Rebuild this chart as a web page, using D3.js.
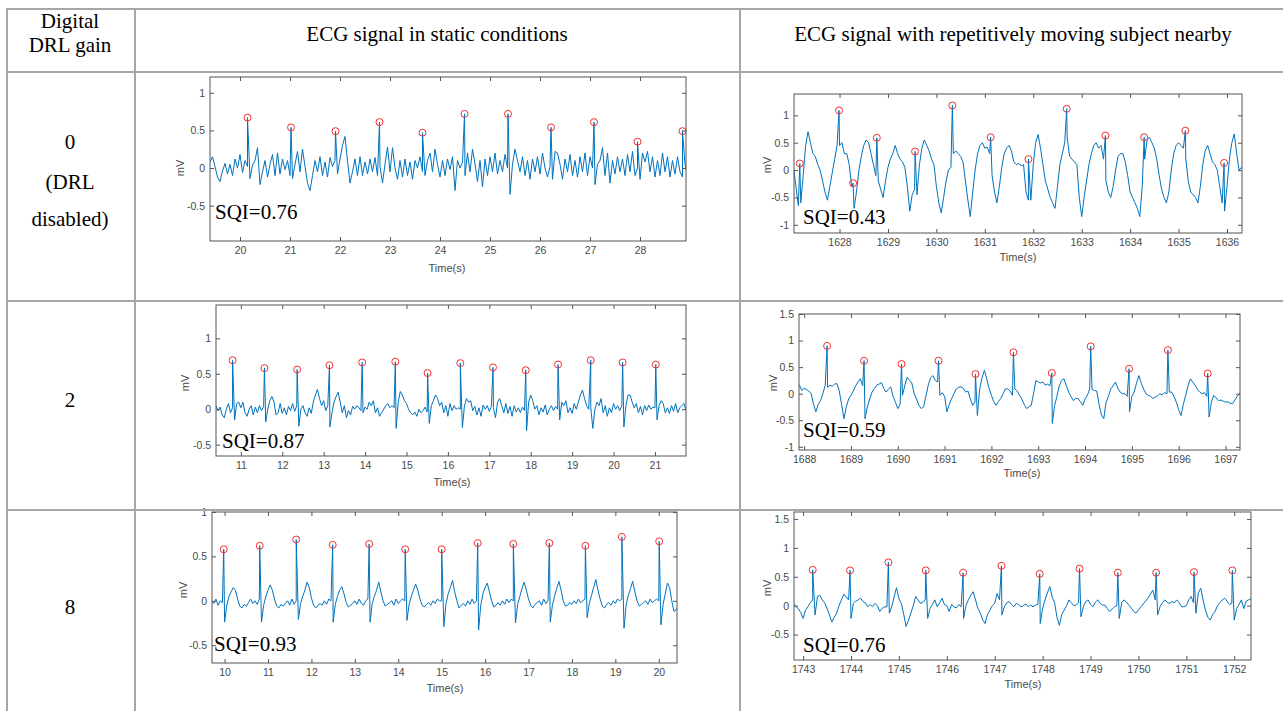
<!DOCTYPE html>
<html>
<head>
<meta charset="utf-8">
<script src="https://cdn.jsdelivr.net/npm/d3@7/dist/d3.min.js"></script>
<style>
  body { margin: 0; background: #fff; }
  .tk text { font-family: "Liberation Sans", Arial, sans-serif; font-size: 10.5px; fill: #4a4a4a; }
  .tk line { stroke: #555; }
  .tk path { display: none; }
</style>
</head>
<body>
<div id="chart"></div>
<script>
// sample step of every trace (s)
var dt = 0.05;

// table text
var gainLabels = [["0", "(DRL", "disabled)"], ["2"], ["8"]];
var colHeaders = ["ECG signal in static conditions", "ECG signal with repetitively moving subject nearby"];
var sqiLabels = ["SQI=0.76", "SQI=0.43", "SQI=0.87", "SQI=0.59", "SQI=0.93", "SQI=0.76"];

// gain 0, static
var startA = 19.40;
var ecgA = [
  0.08, 0.15, 0.02, -0.12, -0.18, -0.04, 0.06, -0.08, 0.05, -0.10,
  0.12, 0.00, 0.18, -0.06, 0.10, 0.02, -0.14, 0.04, 0.10, 0.27,
  -0.22, -0.05, 0.10, -0.12, 0.05, 0.18, -0.10, 0.20, -0.08, 0.12,
  -0.02, 0.10, -0.10, -0.14, 0.05, 0.22, -0.05, 0.25, 0.02, -0.20,
  -0.30, -0.10, 0.10, -0.05, 0.15, -0.10, 0.08, -0.12, 0.14, 0.02,
  0.10, -0.08, 0.12, 0.30, 0.42, 0.10, -0.20, -0.05, 0.12, -0.10,
  0.15, -0.10, 0.08, -0.08, 0.12, -0.05, 0.14, -0.10, 0.02, -0.20,
  0.05, 0.28, -0.05, 0.27, 0.00, -0.15, 0.10, -0.12, 0.12, -0.10,
  0.08, -0.15, 0.10, 0.00, 0.15, -0.05, -0.10, 0.10, 0.20, -0.05,
  0.25, 0.05, -0.12, 0.10, -0.10, 0.12, -0.02, 0.15, -0.30, 0.10,
  0.00, 0.08, -0.10, 0.20, -0.05, 0.25, 0.05, -0.18, 0.10, -0.25,
  0.12, -0.10, 0.15, -0.05, 0.20, -0.08, 0.10, -0.05, 0.18, 0.00,
  -0.35, 0.05, 0.25, 0.10, -0.05, 0.15, -0.10, 0.10, -0.15, 0.12,
  -0.05, 0.15, -0.08, 0.20, 0.00, -0.12, 0.02, -0.15, 0.22, 0.20,
  0.05, -0.15, 0.12, -0.05, 0.18, -0.10, 0.10, -0.12, 0.15, -0.05,
  0.20, -0.10, 0.15, 0.00, -0.22, 0.05, 0.10, 0.27, -0.10, 0.20,
  -0.20, 0.10, -0.08, 0.15, -0.05, 0.12, -0.10, 0.18, -0.05, 0.22,
  -0.10, 0.00, -0.15, 0.20, 0.08, 0.22, -0.05, 0.15, -0.12, 0.10,
  -0.10, 0.20, -0.05, 0.15, -0.12, 0.10, -0.08, 0.15, -0.05, -0.12,
  0.05, -0.10
];
var peakTA = [20.15, 21.02, 21.91, 22.79, 23.65, 24.49, 25.36, 26.22, 27.08, 27.95, 28.85];
var peakVA = [0.67, 0.54, 0.49, 0.61, 0.47, 0.72, 0.72, 0.54, 0.61, 0.35, 0.49];

// gain 0, moving subject
var startB = 1627.05;
var ecgB = [
  0.04, -0.30, -0.65, -0.60, -0.10, 0.45, 0.70, 0.50, 0.30, 0.25,
  0.10, 0.00, -0.20, -0.40, -0.55, -0.30, -0.05, 0.20, 0.45, 0.45,
  0.50, 0.30, 0.30, 0.10, -0.30, -0.70, -0.40, 0.00, 0.25, 0.45,
  0.55, 0.50, 0.30, 0.10, -0.10, -0.20, -0.35, -0.50, -0.20, 0.05,
  0.20, 0.30, 0.45, 0.30, 0.20, 0.15, 0.05, -0.30, -0.75, -0.45,
  -0.35, -0.45, 0.10, 0.40, 0.55, 0.45, 0.35, 0.20, 0.10, -0.30,
  -0.60, -0.78, -0.50, -0.20, 0.00, 0.05, 0.30, 0.35, 0.30, 0.25,
  0.15, -0.20, -0.55, -0.85, -0.40, 0.00, 0.30, 0.45, 0.50, 0.40,
  0.42, 0.30, -0.10, -0.40, -0.60, -0.30, 0.05, 0.30, 0.40, 0.45,
  0.35, 0.15, 0.10, 0.12, 0.08, 0.10, -0.40, -0.55, -0.55, 0.10,
  0.50, 0.65, 0.40, 0.10, -0.20, -0.35, -0.50, -0.60, -0.70, -0.30,
  0.10, 0.30, 0.50, 0.60, 0.25, 0.20, 0.15, 0.10, -0.50, -0.85,
  -0.50, -0.20, 0.10, 0.30, 0.45, 0.50, 0.40, 0.45, 0.20, -0.20,
  -0.40, -0.50, -0.30, 0.00, 0.25, 0.30, 0.30, 0.15, -0.10, -0.40,
  -0.50, -0.60, -0.70, -0.85, -0.30, 0.20, 0.55, 0.60, 0.50, 0.40,
  0.20, -0.10, -0.35, -0.50, -0.60, -0.40, 0.00, 0.30, 0.45, 0.50,
  0.45, 0.40, 0.20, -0.20, -0.40, -0.45, -0.50, -0.60, -0.30, 0.10,
  0.35, 0.45, 0.30, 0.15, 0.10, 0.00, -0.30, -0.60, -0.75, -0.30,
  0.20, 0.50, 0.66, 0.30, 0.00, 0.05, 0.10
];
var peakTB = [1627.18, 1627.99, 1628.28, 1628.77, 1629.56, 1630.33, 1631.12, 1631.90, 1632.69, 1633.49, 1634.29, 1635.14, 1635.94];
var peakVB = [0.12, 1.09, -0.24, 0.59, 0.34, 1.18, 0.60, 0.20, 1.12, 0.63, 0.60, 0.72, 0.13];

// gain 2, static
var startC = 10.40;
var ecgC = [
  0.05, -0.02, 0.03, -0.08, -0.12, 0.00, 0.08, -0.05, 0.02, -0.15,
  0.08, 0.10, 0.02, 0.10, -0.05, -0.10, 0.00, 0.05, -0.08, 0.03,
  -0.05, 0.05, -0.02, 0.04, -0.18, 0.00, 0.12, 0.18, 0.10, -0.08,
  -0.05, 0.08, -0.06, 0.02, -0.08, 0.04, -0.02, 0.08, -0.03, 0.05,
  -0.24, 0.00, 0.05, -0.05, -0.10, 0.02, -0.06, 0.10, 0.20, 0.28,
  0.15, 0.05, 0.12, -0.02, 0.05, -0.25, -0.05, 0.10, 0.18, 0.24,
  0.10, -0.05, 0.05, -0.12, -0.02, -0.08, 0.04, 0.00, 0.05, 0.02,
  -0.02, -0.05, 0.03, 0.00, 0.10, 0.05, 0.12, -0.05, 0.02, -0.10,
  -0.05, 0.00, 0.05, 0.08, 0.02, 0.05, 0.02, -0.27, 0.10, 0.25,
  0.20, 0.12, 0.08, 0.00, -0.05, -0.08, -0.04, -0.10, 0.00, -0.05,
  -0.02, 0.03, -0.04, -0.20, 0.05, 0.12, 0.20, 0.15, 0.05, 0.10,
  -0.05, 0.05, -0.10, 0.08, -0.02, 0.05, 0.00, 0.02, 0.00, -0.26,
  0.05, 0.15, 0.10, 0.12, -0.02, 0.04, -0.08, 0.02, -0.10, 0.06,
  0.00, 0.05, -0.03, 0.04, 0.02, -0.12, 0.10, 0.15, 0.05, -0.05,
  0.08, -0.06, 0.04, -0.10, 0.05, -0.04, 0.02, -0.05, 0.03, -0.02,
  -0.30, 0.10, 0.20, 0.12, 0.00, 0.05, -0.08, 0.02, -0.04, 0.06,
  -0.08, 0.00, 0.05, -0.02, 0.04, 0.00, -0.15, 0.10, 0.05, 0.12,
  -0.05, 0.02, -0.06, 0.08, 0.00, 0.10, 0.20, 0.27, 0.15, 0.05,
  0.00, 0.02, -0.27, 0.00, 0.10, 0.05, 0.15, -0.05, 0.05, -0.10,
  0.02, -0.05, 0.08, 0.00, 0.05, -0.02, 0.05, -0.25, 0.05, 0.20,
  0.20, 0.10, 0.02, 0.08, -0.05, 0.04, -0.08, 0.05, -0.02, 0.06,
  0.00, 0.03, 0.02, -0.15, 0.05, 0.12, 0.08, -0.05, 0.02, -0.06,
  0.05, -0.03, 0.08, -0.05, 0.02, 0.05, 0.08, -0.02
];
var peakTC = [10.80, 11.57, 12.36, 13.14, 13.93, 14.73, 15.51, 16.30, 17.09, 17.88, 18.66, 19.45, 20.22, 21.02];
var peakVC = [0.69, 0.58, 0.56, 0.62, 0.66, 0.67, 0.51, 0.65, 0.59, 0.55, 0.63, 0.69, 0.66, 0.63];

// gain 2, moving subject
var startD = 1687.85;
var ecgD = [
  0.12, 0.16, 0.06, 0.10, 0.08, 0.05, 0.00, -0.20, -0.34, -0.20,
  -0.13, 0.00, 0.16, 0.12, 0.16, 0.14, 0.18, 0.19, 0.05, -0.20,
  -0.47, -0.25, -0.10, -0.03, 0.05, 0.15, 0.22, 0.28, 0.15, -0.47,
  -0.25, -0.10, 0.03, 0.10, 0.16, 0.18, 0.21, 0.10, 0.03, 0.08,
  0.13, -0.05, -0.16, -0.28, -0.20, -0.03, 0.15, 0.31, 0.25, 0.20,
  0.00, -0.10, -0.22, -0.28, -0.25, -0.05, 0.16, 0.30, 0.34, 0.25,
  0.22, -0.03, 0.02, -0.05, -0.34, -0.20, -0.09, 0.00, 0.09, 0.12,
  0.13, 0.10, 0.03, 0.05, -0.10, -0.22, -0.15, -0.41, 0.09, 0.30,
  0.44, 0.28, 0.10, -0.03, -0.15, -0.22, -0.15, -0.09, 0.00, 0.09,
  0.09, 0.05, -0.03, 0.09, 0.05, -0.03, -0.10, -0.20, -0.28, -0.25,
  -0.22, 0.00, 0.25, 0.22, 0.20, 0.22, 0.16, 0.18, 0.15, -0.56,
  -0.22, -0.05, 0.15, 0.25, 0.28, 0.15, 0.03, -0.05, -0.13, -0.09,
  -0.09, -0.15, -0.22, -0.10, -0.03, 0.09, 0.08, 0.06, 0.05, -0.20,
  -0.40, -0.47, -0.16, -0.05, 0.09, 0.15, 0.22, 0.10, 0.03, 0.00,
  0.00, -0.05, -0.34, -0.05, 0.03, 0.20, 0.34, 0.20, 0.09, 0.00,
  -0.03, -0.05, -0.09, -0.06, -0.04, 0.00, -0.02, 0.02, 0.00, 0.03,
  0.03, -0.05, -0.16, -0.30, -0.41, -0.20, -0.03, 0.15, 0.28, 0.22,
  0.16, 0.08, 0.03, 0.00, 0.02, -0.05, -0.44, -0.15, -0.03, -0.08,
  -0.13, -0.12, -0.14, -0.16, -0.15, -0.18, -0.19, -0.12, -0.05, 0.00,
  0.06
];
var peakTD = [1688.49, 1689.28, 1690.08, 1690.87, 1691.66, 1692.47, 1693.29, 1694.12, 1694.94, 1695.77, 1696.62];
var peakVD = [0.90, 0.62, 0.56, 0.62, 0.37, 0.78, 0.39, 0.89, 0.47, 0.82, 0.38];

// gain 8, static
var startE = 9.70;
var ecgE = [
  0.00, -0.03, 0.02, -0.05, 0.00, -0.02, -0.24, -0.05, 0.05, 0.10,
  0.15, 0.12, 0.02, -0.06, -0.08, -0.04, -0.06, -0.02, 0.02, -0.03,
  0.00, -0.04, 0.02, -0.24, -0.05, 0.05, 0.12, 0.18, 0.12, 0.02,
  -0.06, -0.08, -0.04, -0.06, -0.03, 0.00, -0.05, 0.02, -0.04, 0.00,
  -0.21, -0.03, 0.05, 0.12, 0.21, 0.15, 0.03, -0.05, -0.08, -0.05,
  -0.03, -0.05, 0.00, -0.04, 0.02, 0.00, -0.24, -0.04, 0.05, 0.12,
  0.16, 0.08, -0.02, -0.07, -0.05, -0.03, 0.00, -0.04, 0.02, -0.03,
  -0.05, 0.00, 0.02, -0.24, -0.03, 0.05, 0.12, 0.21, 0.10, 0.00,
  -0.06, -0.04, -0.02, 0.00, -0.05, 0.02, -0.03, 0.00, 0.02, 0.00,
  -0.22, -0.04, 0.05, 0.12, 0.19, 0.12, 0.02, -0.05, -0.07, -0.04,
  -0.02, -0.05, 0.00, -0.03, 0.02, 0.00, 0.00, -0.29, -0.03, 0.08,
  0.15, 0.23, 0.10, 0.00, -0.08, -0.05, -0.03, -0.06, 0.00, -0.04,
  0.02, -0.03, 0.00, -0.33, -0.05, 0.08, 0.15, 0.20, 0.10, 0.00,
  -0.07, -0.05, -0.02, -0.05, 0.00, -0.04, 0.02, -0.02, 0.02, 0.00,
  -0.25, -0.04, 0.05, 0.14, 0.21, 0.12, 0.02, -0.05, -0.08, -0.04,
  -0.02, 0.00, -0.05, 0.02, -0.03, 0.00, -0.24, -0.05, 0.05, 0.14,
  0.22, 0.12, 0.00, -0.06, -0.05, -0.02, -0.04, 0.00, -0.03, 0.02,
  -0.02, 0.00, 0.02, -0.19, -0.03, 0.06, 0.15, 0.24, 0.12, 0.02,
  -0.06, -0.08, -0.04, -0.02, -0.05, 0.00, -0.03, 0.02, 0.00, 0.02,
  -0.31, -0.04, 0.06, 0.14, 0.22, 0.10, 0.00, -0.06, -0.04, -0.02,
  0.00, -0.04, 0.02, -0.02, 0.00, 0.02, 0.00, -0.27, -0.04, 0.08,
  0.20, 0.15, 0.00, -0.12, -0.10, -0.05
];
var peakTE = [9.98, 10.81, 11.65, 12.49, 13.33, 14.16, 15.00, 15.83, 16.65, 17.48, 18.31, 19.15, 20.01];
var peakVE = [0.58, 0.62, 0.69, 0.63, 0.64, 0.58, 0.58, 0.65, 0.64, 0.65, 0.62, 0.72, 0.67];

// gain 8, moving subject
var startF = 1742.80;
var ecgF = [
  0.04, -0.02, -0.05, -0.12, -0.22, -0.08, -0.02, 0.05, 0.10, -0.16,
  0.16, 0.18, 0.10, 0.05, -0.05, -0.16, -0.28, -0.20, -0.13, 0.00,
  0.10, 0.20, 0.15, 0.10, -0.22, 0.04, 0.08, 0.10, 0.13, 0.07,
  0.05, -0.02, 0.02, -0.02, 0.04, 0.00, -0.10, -0.05, -0.02, -0.02,
  -0.13, -0.02, 0.15, 0.31, 0.12, 0.04, -0.15, -0.36, -0.25, -0.13,
  0.00, 0.16, 0.10, 0.04, 0.06, 0.10, -0.22, -0.05, 0.02, 0.10,
  -0.02, 0.05, 0.13, 0.02, 0.00, -0.10, 0.02, -0.02, -0.04, 0.02,
  -0.02, -0.22, 0.00, 0.10, 0.18, 0.24, 0.10, -0.05, -0.13, -0.25,
  -0.31, -0.15, -0.08, 0.00, 0.04, 0.21, 0.10, -0.16, -0.02, 0.05,
  0.07, 0.02, -0.02, 0.04, 0.02, -0.02, 0.00, 0.03, -0.02, 0.01,
  -0.02, 0.01, 0.02, -0.31, -0.05, 0.10, 0.22, 0.33, 0.15, 0.05,
  -0.20, -0.34, -0.15, -0.08, 0.00, 0.10, 0.05, 0.00, 0.01, 0.05,
  -0.19, -0.02, 0.07, 0.10, 0.02, -0.02, 0.06, 0.10, 0.04, 0.01,
  0.01, -0.05, -0.10, -0.06, -0.02, 0.00, -0.22, 0.05, 0.10, 0.06,
  0.01, -0.04, -0.10, -0.13, -0.08, -0.02, 0.03, 0.08, 0.13, 0.20,
  0.27, 0.10, -0.16, -0.02, 0.05, 0.10, 0.06, 0.04, 0.07, 0.05,
  0.10, 0.05, -0.02, -0.02, 0.00, 0.10, 0.16, 0.05, -0.13, 0.22,
  0.30, 0.10, -0.08, -0.20, -0.25, -0.15, -0.10, 0.00, 0.05, 0.10,
  0.13, 0.08, 0.02, 0.04, -0.25, -0.05, 0.02, 0.10, -0.05, 0.08,
  0.10, 0.12
];
var peakTF = [1743.20, 1743.98, 1744.78, 1745.56, 1746.34, 1747.14, 1747.94, 1748.77, 1749.57, 1750.37, 1751.16, 1751.96];
var peakVF = [0.62, 0.61, 0.75, 0.61, 0.57, 0.69, 0.55, 0.64, 0.57, 0.57, 0.58, 0.61];

// tick values
var xTicksA = [20, 21, 22, 23, 24, 25, 26, 27, 28];
var xTicksB = [1628, 1629, 1630, 1631, 1632, 1633, 1634, 1635, 1636];
var xTicksC = [11, 12, 13, 14, 15, 16, 17, 18, 19, 20, 21];
var xTicksD = [1688, 1689, 1690, 1691, 1692, 1693, 1694, 1695, 1696, 1697];
var xTicksE = [10, 11, 12, 13, 14, 15, 16, 17, 18, 19, 20];
var xTicksF = [1743, 1744, 1745, 1746, 1747, 1748, 1749, 1750, 1751, 1752];
var yTicksA = [-0.5, 0, 0.5, 1];
var yTicksB = [-1, -0.5, 0, 0.5, 1];
var yTicksC = [-0.5, 0, 0.5, 1];
var yTicksD = [-1, -0.5, 0, 0.5, 1, 1.5];
var yTicksE = [-0.5, 0, 0.5, 1];
var yTicksF = [-0.5, 0, 0.5, 1, 1.5];

var svg = d3.select("#chart")
  .append("svg")
    .attr("width", 1283)
    .attr("height", 711);

var serif = '"Liberation Serif", "Times New Roman", serif';
var sans = '"Liberation Sans", Arial, sans-serif';

// panel boxes in page pixels + axis limits
var panels = [
  {id: "A", ecg: ecgA, t0: startA, pt: peakTA, pv: peakVA, xt: xTicksA, yt: yTicksA, sqi: sqiLabels[0],
   left: 210, right: 686, top: 77, bottom: 241, xDom: [19.40, 28.92], yDom: [-0.97, 1.21],
   sqiPos: [215, 219], mvPos: [180, 168], timePos: [447, 272]},
  {id: "B", ecg: ecgB, t0: startB, pt: peakTB, pv: peakVB, xt: xTicksB, yt: yTicksB, sqi: sqiLabels[1],
   left: 794, right: 1242, top: 94, bottom: 233, xDom: [1627.06, 1636.31], yDom: [-1.15, 1.39],
   sqiPos: [803, 224], mvPos: [767, 165], timePos: [1018, 261]},
  {id: "C", ecg: ecgC, t0: startC, pt: peakTC, pv: peakVC, xt: xTicksC, yt: yTicksC, sqi: sqiLabels[2],
   left: 216, right: 686, top: 305, bottom: 456, xDom: [10.40, 21.75], yDom: [-0.66, 1.47],
   sqiPos: [222, 448], mvPos: [185, 383], timePos: [452, 486]},
  {id: "D", ecg: ecgD, t0: startD, pt: peakTD, pv: peakVD, xt: xTicksD, yt: yTicksD, sqi: sqiLabels[3],
   left: 799, right: 1240, top: 314, bottom: 450, xDom: [1687.89, 1697.31], yDom: [-1.06, 1.5],
   sqiPos: [803, 437], mvPos: [773, 383], timePos: [1022, 477]},
  {id: "E", ecg: ecgE, t0: startE, pt: peakTE, pv: peakVE, xt: xTicksE, yt: yTicksE, sqi: sqiLabels[4],
   left: 212, right: 677, top: 512, bottom: 663, xDom: [9.71, 20.42], yDom: [-0.70, 1.0],
   sqiPos: [214, 651], mvPos: [183, 590], timePos: [445, 692]},
  {id: "F", ecg: ecgF, t0: startF, pt: peakTF, pv: peakVF, xt: xTicksF, yt: yTicksF, sqi: sqiLabels[5],
   left: 794, right: 1251, top: 512, bottom: 660, xDom: [1742.81, 1752.35], yDom: [-0.94, 1.62],
   sqiPos: [803, 652], mvPos: [767, 588], timePos: [1023, 688]}
];

function drawPanel(p) {
  var x = d3.scaleLinear().domain(p.xDom).range([p.left, p.right]);
  var y = d3.scaleLinear().domain(p.yDom).range([p.bottom, p.top]);
  var g = svg.append("g");

  g.append("clipPath").attr("id", "clip" + p.id)
    .append("rect")
      .attr("x", p.left).attr("y", p.top)
      .attr("width", p.right - p.left).attr("height", p.bottom - p.top);

  // samples + R peaks merged in time order
  var pts = p.ecg.map(function(v, i) { return [p.t0 + i * dt, v]; });
  p.pt.forEach(function(t, i) { pts.push([t, p.pv[i]]); });
  pts.sort(function(a, b) { return a[0] - b[0]; });

  g.append("path")
    .datum(pts)
    .attr("clip-path", "url(#clip" + p.id + ")")
    .attr("fill", "none")
    .attr("stroke", "#0072BD")
    .attr("stroke-width", 1)
    .attr("stroke-linejoin", "round")
    .attr("d", d3.line()
      .x(function(d) { return x(d[0]); })
      .y(function(d) { return y(d[1]); }));

  g.selectAll("circle.pk")
    .data(p.pt)
    .enter().append("circle")
      .attr("class", "pk")
      .attr("cx", function(d) { return x(d); })
      .attr("cy", function(d, i) { return y(p.pv[i]); })
      .attr("r", 3.5)
      .attr("fill", "none")
      .attr("stroke", "#f03030")
      .attr("stroke-width", 1);

  var fmt = function(d) { return String(d); };
  var yt = p.yt.filter(function(v) { return v <= p.yDom[1]; });
  g.append("g").attr("class", "tk")
    .attr("transform", "translate(0," + p.bottom + ")")
    .call(d3.axisBottom(x).tickValues(p.xt).tickFormat(fmt).tickSizeInner(-4).tickSizeOuter(0).tickPadding(6));
  g.append("g").attr("class", "tk")
    .attr("transform", "translate(0," + p.top + ")")
    .call(d3.axisTop(x).tickValues(p.xt).tickFormat("").tickSizeInner(-4).tickSizeOuter(0));
  g.append("g").attr("class", "tk")
    .attr("transform", "translate(" + p.left + ",0)")
    .call(d3.axisLeft(y).tickValues(yt).tickFormat(fmt).tickSizeInner(-4).tickSizeOuter(0).tickPadding(5));
  g.append("g").attr("class", "tk")
    .attr("transform", "translate(" + p.right + ",0)")
    .call(d3.axisRight(y).tickValues(yt).tickFormat("").tickSizeInner(-4).tickSizeOuter(0));

  g.append("rect")
    .attr("x", p.left).attr("y", p.top)
    .attr("width", p.right - p.left).attr("height", p.bottom - p.top)
    .attr("fill", "none").attr("stroke", "#555").attr("stroke-width", 1);

  g.append("text")
    .attr("x", p.timePos[0]).attr("y", p.timePos[1])
    .attr("text-anchor", "middle")
    .style("font-family", sans).style("font-size", "11px").style("fill", "#4a4a4a")
    .text("Time(s)");
  g.append("text")
    .attr("transform", "translate(" + p.mvPos[0] + "," + p.mvPos[1] + ") rotate(-90)")
    .attr("text-anchor", "middle")
    .attr("dy", "0.35em")
    .style("font-family", sans).style("font-size", "11px").style("fill", "#4a4a4a")
    .text("mV");

  g.append("text")
    .attr("x", p.sqiPos[0]).attr("y", p.sqiPos[1])
    .style("font-family", serif).style("font-size", "21px").style("fill", "#000")
    .text(p.sqi);
}

panels.forEach(drawPanel);

// table grid on top
var grid = svg.append("g").attr("stroke", "#a6a6a6").attr("stroke-width", 2);
[9, 72, 301, 510].forEach(function(yy) {
  grid.append("line").attr("x1", 6).attr("x2", 1283).attr("y1", yy).attr("y2", yy);
});
[7, 135, 740].forEach(function(xx) {
  grid.append("line").attr("x1", xx).attr("x2", xx).attr("y1", 8).attr("y2", 711);
});

// header cells
var hdr = function(x, y, s) {
  svg.append("text").attr("x", x).attr("y", y).attr("text-anchor", "middle")
    .style("font-family", serif).style("font-size", "21px").style("fill", "#000").text(s);
};
hdr(70, 28, "Digital");
hdr(70, 52, "DRL gain");
hdr(437, 41, colHeaders[0]);
hdr(1013, 41, colHeaders[1]);

// gain labels
var gainY = [[149, 189, 226], [407], [614]];
gainLabels.forEach(function(lines, r) {
  lines.forEach(function(s, k) { hdr(70, gainY[r][k], s); });
});
</script>
</body>
</html>
